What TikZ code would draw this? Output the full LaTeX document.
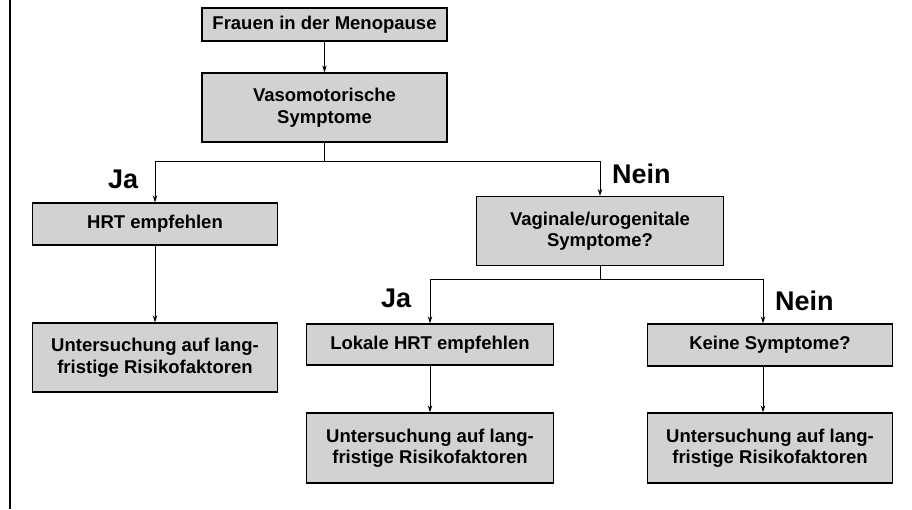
\documentclass[tikz,border=0pt]{standalone}
\usepackage{fontspec}
\setmainfont{Liberation Sans}
\usetikzlibrary{arrows.meta}
\tikzset{
    box/.style={draw, line width=1.3pt, fill=gray!35, minimum width=245pt, inner sep=0pt, align=center, font=\bfseries\fontsize{18.5}{21.5}\selectfont},
    flat/.style={box, minimum height=42pt},
    tall/.style={box, minimum height=69pt},
    answer/.style={anchor=base west, inner sep=0pt, font=\bfseries\fontsize{27}{30}\selectfont},
    arrow/.style={line width=1pt, -{Stealth[length=7pt,width=4.5pt]}},
    line/.style={line width=1pt},
}

\begin{document}
\begin{tikzpicture}[x=1pt,y=-1pt]
        \useasboundingbox (0,0) rectangle (912,509);
        % Seitenrand links
        \draw[line width=1.6pt] (10,0) -- (10,509);

        % Start und erste Frage
        \node[box, minimum height=33pt] (frauen) at (324.5,24.5) {Frauen in der Menopause};
        \node[tall] (vaso) at (324.5,107.5) {Vasomotorische\\Symptome};
        \coordinate (gabel1) at (324.5,161);

        % Zweig Ja (links)
        \node[flat] (hrt) at (155,224) {HRT empfehlen};
        \node[tall] (unt1) at (155,357.5) {Untersuchung auf lang-\\fristige Risikofaktoren};
        \node[answer] (ja1) at (108,188) {Ja};

        % Zweig Nein (rechts)
        \node[tall, minimum width=247pt] (vag) at (600,231) {Vaginale/urogenitale\\Symptome?};
        \node[answer] (nein1) at (612,183) {Nein};
        \coordinate (gabel2) at (600,279);

        % zweite Verzweigung
        \node[flat, minimum width=247pt, minimum height=41pt] (lokal) at (430,344.5) {Lokale HRT empfehlen};
        \node[tall, minimum width=247pt, minimum height=70pt] (unt2) at (430,448) {Untersuchung auf lang-\\fristige Risikofaktoren};
        \node[answer] (ja2) at (381,307) {Ja};
        \node[flat] (keine) at (770,345) {Keine Symptome?};
        \node[tall, minimum height=70pt] (unt3) at (770,448) {Untersuchung auf lang-\\fristige Risikofaktoren};
        \node[answer] (nein2) at (775,310) {Nein};

        % Pfeile
        \draw[arrow] (frauen) -- (vaso);
        \draw[line] (vaso) -- (gabel1);
        \draw[arrow] (gabel1) -| (hrt);
        \draw[arrow] (gabel1) -| (vag);
        \draw[arrow] (hrt) -- (unt1);
        \draw[line] (vag) -- (gabel2);
        \draw[arrow] (gabel2) -| (lokal);
        \draw[arrow] (gabel2) -| ([xshift=-7pt]keine.north);
        \draw[arrow] (lokal) -- (unt2);
        \draw[arrow] ([xshift=-7pt]keine.south) -- ([xshift=-7pt]unt3.north);
\end{tikzpicture}
\end{document}
